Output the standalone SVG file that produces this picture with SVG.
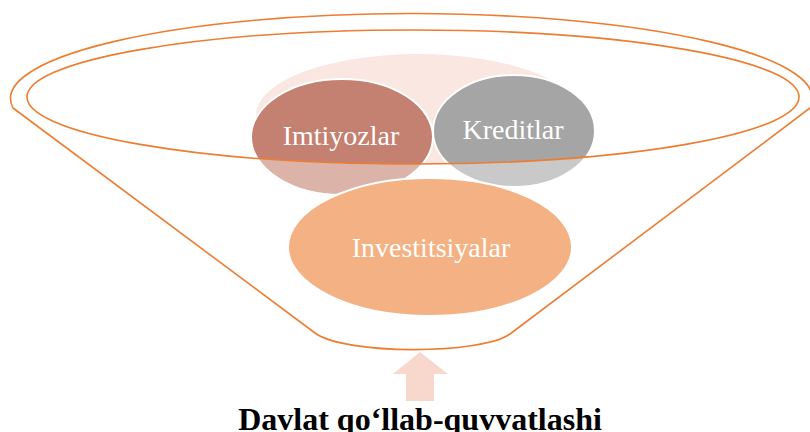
<svg xmlns="http://www.w3.org/2000/svg" width="810" height="432" viewBox="0 0 810 432">
  <defs>
    <style>
      .line { fill: none; stroke: #ED7D31; stroke-width: 1.6; }
      .bubble { stroke: #FFFFFF; stroke-width: 2; }
      .label { font-family: "Liberation Serif", "Times New Roman", serif; font-size: 28px; fill: #FFFFFF; text-anchor: middle; }
      .title { font-family: "Liberation Serif", "Times New Roman", serif; font-size: 32px; font-weight: bold; fill: #000000; text-anchor: middle; }
    </style>
    <clipPath id="innerClip">
      <ellipse cx="413" cy="97" rx="386" ry="67"/>
    </clipPath>
  </defs>
  <rect width="810" height="432" fill="#FFFFFF"/>

  <g id="background-circle" clip-path="url(#innerClip)">
    <ellipse cx="418" cy="115" rx="162" ry="61" fill="#FBE7E2"/>
  </g>

  <g id="node-imtiyozlar">
    <ellipse class="bubble" cx="342" cy="137" rx="91" ry="58" fill="#C48070"/>
    <text class="label" x="341" y="145">Imtiyozlar</text>
  </g>

  <g id="node-kreditlar">
    <ellipse class="bubble" cx="514" cy="131" rx="81" ry="56" fill="#A5A5A5"/>
    <text class="label" x="513" y="139">Kreditlar</text>
  </g>

  <g id="funnel">
    <path fill="#FFFFFF" fill-opacity="0.4" fill-rule="evenodd"
          d="M13,108 L315,333 C345,355 480,355 510,334 L810,108 A401,85 0 1 0 13,108 Z M27,97 A386,67 0 1 0 799,97 A386,67 0 1 0 27,97 Z"/>
    <path class="line" d="M13,108 L315,333 C345,355 480,355 510,334 L810,108 A401,85 0 1 0 13,108 Z"/>
    <ellipse class="line" cx="413" cy="97" rx="386" ry="67"/>
  </g>

  <g id="node-investitsiyalar">
    <ellipse class="bubble" cx="430" cy="247" rx="142" ry="69" fill="#F4B183"/>
    <text class="label" x="431" y="257">Investitsiyalar</text>
  </g>

  <g id="connectors">
    <polygon points="420,352 448,374 434,374 434,401 406,401 406,374 393,374" fill="#F8D7CC"/>
  </g>

  <g id="node-davlat">
    <text class="title" x="420" y="430">Davlat qo‘llab-quvvatlashi</text>
  </g>
</svg>
